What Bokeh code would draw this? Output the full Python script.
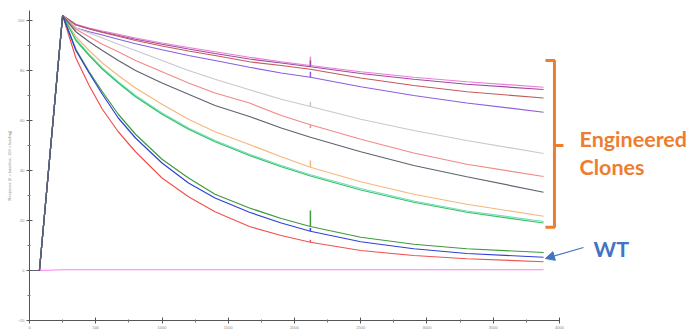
from bokeh.plotting import figure
from bokeh.models import Range1d, Label, Arrow, NormalHead, FixedTicker, LinearAxis
from bokeh.embed import file_html
from bokeh.resources import INLINE

# ---- data ----
time_s = [0, 75, 250, 350, 450, 550, 670, 800, 1000, 1200, 1400, 1660, 1900, 2120, 2500, 2900, 3300, 3880]

clone_pink      = [0, 0, 102, 98.5, 97.0, 95.8, 94.5, 93.0, 91.0, 89.2, 87.5, 85.3, 83.5, 82.0, 79.5, 77.3, 75.5, 73.3]
clone_plum      = [0, 0, 102, 98.3, 96.7, 95.4, 94.0, 92.5, 90.5, 88.6, 86.8, 84.6, 83.0, 81.5, 78.8, 76.5, 74.5, 72.4]
clone_brown     = [0, 0, 102, 98.2, 96.6, 95.2, 93.7, 92.0, 89.8, 87.8, 86.0, 83.5, 82.0, 80.5, 77.0, 74.0, 71.5, 69.0]
clone_violet    = [0, 0, 102, 97.0, 95.5, 94.2, 92.5, 90.7, 88.3, 86.0, 84.0, 81.3, 79.0, 77.3, 73.5, 70.0, 67.0, 63.3]
clone_lightgray = [0, 0, 102, 97.0, 95.0, 93.0, 90.5, 88.0, 84.0, 80.0, 76.5, 72.3, 68.5, 65.6, 60.5, 56.0, 52.0, 46.8]
clone_salmon    = [0, 0, 102, 96.5, 93.5, 90.5, 87.5, 84.0, 79.5, 75.0, 71.0, 67.0, 62.0, 58.3, 52.5, 47.0, 42.5, 37.6]
clone_darkgray  = [0, 0, 102, 95.5, 91.5, 88.0, 84.0, 80.0, 75.0, 70.5, 66.0, 61.6, 57.0, 53.3, 47.5, 42.0, 37.5, 31.3]
clone_orange    = [0, 0, 102, 93.5, 88.0, 83.0, 78.0, 73.0, 66.5, 60.5, 55.5, 50.4, 45.5, 41.3, 35.5, 30.5, 26.5, 21.7]
clone_mint      = [0, 0, 102, 92.5, 86.5, 81.0, 75.5, 70.0, 63.0, 57.0, 52.0, 46.5, 42.0, 38.3, 32.8, 27.8, 23.8, 19.6]
clone_green     = [0, 0, 102, 92.0, 86.0, 80.5, 75.0, 69.5, 62.5, 56.5, 51.5, 46.0, 41.5, 37.8, 32.2, 27.3, 23.3, 19.0]
wt_darkgreen    = [0, 0, 102, 88.5, 79.5, 71.5, 62.5, 54.5, 44.5, 37.0, 30.5, 25.0, 20.8, 17.6, 13.3, 10.5, 8.7, 7.2]
wt_blue         = [0, 0, 102, 88.0, 79.0, 70.5, 61.0, 53.0, 43.0, 35.0, 29.0, 23.3, 19.0, 15.7, 11.5, 8.7, 6.8, 5.3]
wt_red          = [0, 0, 102, 85.0, 74.0, 64.5, 55.5, 47.5, 37.0, 29.5, 23.5, 17.6, 14.0, 11.3, 8.0, 6.0, 4.7, 3.5]
reference       = [0, 0, 0.3, 0.3, 0.3, 0.3, 0.3, 0.3, 0.3, 0.3, 0.3, 0.3, 0.3, 0.3, 0.3, 0.3, 0.3, 0.3]

series = [
    (reference, "#ff80f4"),
    (clone_pink, "#e77fd6"),
    (clone_plum, "#a5479f"),
    (clone_brown, "#c25a5a"),
    (clone_violet, "#8b5fe0"),
    (clone_lightgray, "#c9c9cc"),
    (clone_salmon, "#f28a86"),
    (clone_orange, "#f6b77a"),
    (clone_mint, "#6fe0b6"),
    (clone_green, "#37c06a"),
    (wt_red, "#f05252"),
    (wt_darkgreen, "#3f9a3c"),
    (wt_blue, "#3040d8"),
    (clone_darkgray, "#5f6470"),
]

# small injection artefacts at t = 2120 s
spike_time = 2120
spike_from = [82.0, 81.5, 77.3, 65.6, 58.3, 41.3, 17.6, 15.7, 11.3]
spike_to   = [85.5, 84.0, 79.5, 67.5, 57.0, 44.0, 24.0, 17.0, 12.3]
spike_colors = ["#e77fd6", "#a5479f", "#8b5fe0", "#c9c9cc", "#f28a86", "#f6b77a", "#3f9a3c", "#3040d8", "#f05252"]

x_ticks = [0, 500, 1000, 1500, 2000, 2500, 3000, 3500, 4000]
x_minor = [250, 750, 1250, 1750, 2250, 2750, 3250, 3750]
y_ticks = [-20, 0, 20, 40, 60, 80, 100]
y_minor = [-10, 10, 30, 50, 70, 90]

p = figure(width=690, height=331, x_range=Range1d(-218.9, 4988.7), y_range=Range1d(-24.4, 108),
           output_backend="svg", toolbar_location=None,
           x_axis_location=None, y_axis_location=None,
           min_border_left=0, min_border_right=0, min_border_top=0, min_border_bottom=0)
p.outline_line_color = None
p.xgrid.visible = False
p.ygrid.visible = False

for vals, col in series:
    p.line(time_s, vals, line_color=col, line_width=1.2)

p.segment(x0=[spike_time] * len(spike_from), y0=spike_from,
          x1=[spike_time] * len(spike_to), y1=spike_to,
          line_color=spike_colors, line_width=1.5)

xaxis = LinearAxis(fixed_location=-20, ticker=FixedTicker(ticks=x_ticks, minor_ticks=x_minor),
                   bounds=(0, 4000))
yaxis = LinearAxis(fixed_location=0, ticker=FixedTicker(ticks=y_ticks, minor_ticks=y_minor),
                   bounds=(-20, 104), axis_label="Response (0 = baseline, 100 = loading)")
for ax in (xaxis, yaxis):
    ax.axis_line_color = "#555555"
    ax.major_tick_line_color = "#555555"
    ax.minor_tick_line_color = "#777777"
    ax.major_tick_in = 3
    ax.major_tick_out = 3
    ax.minor_tick_in = 1
    ax.minor_tick_out = 2
    ax.major_label_text_font_size = "4px"
    ax.major_label_text_color = "#888888"
    ax.major_label_standoff = 2
yaxis.axis_label_text_font_size = "4px"
yaxis.axis_label_text_font_style = "normal"
yaxis.axis_label_text_color = "#888888"
yaxis.axis_label_standoff = 3
p.add_layout(xaxis, "below")
p.add_layout(yaxis, "left")

# ---- annotations ----
orange = "#ed7d31"
blue = "#4472c4"
p.line([3894, 3962, 3962, 3894], [84.0, 84.0, 17.3, 17.3], line_color=orange, line_width=3)
p.line([3962, 4030], [50.0, 50.0], line_color=orange, line_width=3)

p.add_layout(Label(x=4151, y=52.8, text="Engineered", text_color=orange, text_font="Lato",
                   text_font_style="bold", text_font_size="21.5px", text_baseline="alphabetic"))
p.add_layout(Label(x=4151, y=41.3, text="Clones", text_color=orange, text_font="Lato",
                   text_font_style="bold", text_font_size="21.5px", text_baseline="alphabetic"))
p.add_layout(Label(x=4257, y=8.8, text="WT", text_color=blue, text_font="Lato",
                   text_font_style="bold", text_font_size="21.5px", text_baseline="alphabetic"))
p.add_layout(Arrow(x_start=4181, y_start=9.2, x_end=3894, y_end=4.8, line_color=blue, line_width=1.2,
                   end=NormalHead(size=9, fill_color=blue, line_color=blue)))

open("out.html", "w").write(file_html(p, INLINE))
